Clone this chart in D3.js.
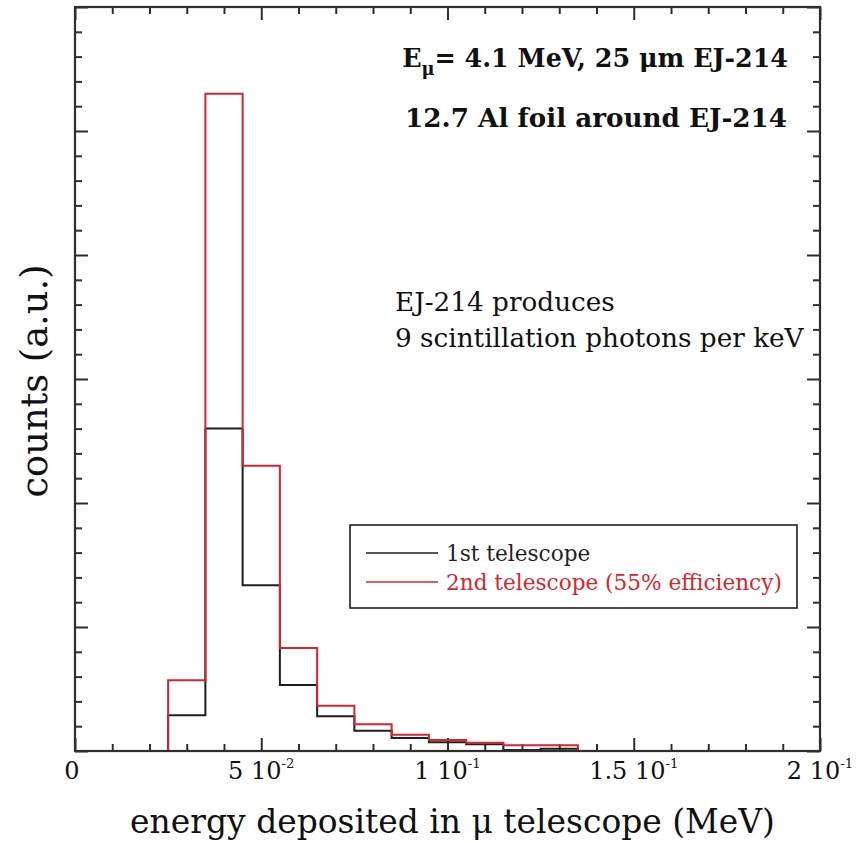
<!DOCTYPE html>
<html>
<head>
<meta charset="utf-8">
<script src="https://cdn.jsdelivr.net/npm/d3@7"></script>
<style>
  html, body { margin: 0; padding: 0; background: #fff; }
  svg { display: block; }
  text { font-family: "DejaVu Serif", "Liberation Serif", serif; fill: #111; }
</style>
</head>
<body>
<div id="chart"></div>
<script>
// ---- data ----
const binEdges = [0.025, 0.035, 0.045, 0.055, 0.065, 0.075, 0.085, 0.095, 0.105, 0.115, 0.125, 0.135];
const firstTelescope  = [0.288, 2.60, 1.336, 0.532, 0.280, 0.164, 0.105, 0.070, 0.054, 0.008, 0.019];
const secondTelescope = [0.570, 5.30, 2.30, 0.831, 0.365, 0.215, 0.132, 0.089, 0.066, 0.046, 0.046];
const seriesNames = ["1st telescope", "2nd telescope (55% efficiency)"];
const xTickValues = [0, 0.05, 0.1, 0.15, 0.2];
const xTickMantissa = ["0", "5", "1", "1.5", "2"];
const xTickExponent = ["", "-2", "-1", "-1", "-1"];
const xDomain = [0, 0.2];
const yDomain = [0, 6];

// ---- layout ----
const W = 856, H = 843;
const L = 75, R = 820, T = 7, B = 751;
const black = "#1e1e1e", red = "#d8252b", axisCol = "#2e2e2e";

const svg = d3.select("#chart").append("svg").attr("width", W).attr("height", H);
const x = d3.scaleLinear().domain(xDomain).range([L, R]);
const y = d3.scaleLinear().domain(yDomain).range([B, T]);

function fit(sel, target) {
  const fs = parseFloat(sel.attr("font-size"));
  const w = sel.node().getBBox().width;
  sel.attr("font-size", (fs * target / w).toFixed(2));
}

// ---- ticks (inward on all four sides) ----
const xMinor = d3.range(0, 21).map(i => i / 100).filter(v => Math.round(v * 100) % 5 !== 0);
const yMinor = d3.range(0, 31).map(i => i / 5).filter(v => Math.abs(v - Math.round(v)) > 1e-6);
const yMajor = d3.range(0, 7);
const majLen = 13, minLen = 7;

function axisGroup(axis, tx, ty) {
  const g = svg.append("g").attr("transform", `translate(${tx},${ty})`).call(axis);
  g.select(".domain").remove();
  g.selectAll(".tick line").attr("stroke", axisCol).attr("stroke-width", 2);
  g.selectAll(".tick text").remove();
  return g;
}
axisGroup(d3.axisBottom(x).tickValues(xMinor).tickSize(-minLen), 0, B);
axisGroup(d3.axisBottom(x).tickValues(xTickValues).tickSize(-majLen), 0, B);
axisGroup(d3.axisTop(x).tickValues(xMinor).tickSize(-minLen), 0, T);
axisGroup(d3.axisTop(x).tickValues(xTickValues).tickSize(-majLen), 0, T);
axisGroup(d3.axisLeft(y).tickValues(yMinor).tickSize(-minLen), L, 0);
axisGroup(d3.axisLeft(y).tickValues(yMajor).tickSize(-majLen), L, 0);
axisGroup(d3.axisRight(y).tickValues(yMinor).tickSize(-minLen), R, 0);
axisGroup(d3.axisRight(y).tickValues(yMajor).tickSize(-majLen), R, 0);

// ---- histograms ----
function stepPoints(vals) {
  const pts = [[binEdges[0], 0]];
  vals.forEach((v, i) => { pts.push([binEdges[i], v]); pts.push([binEdges[i + 1], v]); });
  pts.push([binEdges[binEdges.length - 1], 0]);
  return pts;
}
const line = d3.line().x(d => x(d[0])).y(d => y(d[1]));
svg.append("path").attr("d", line(stepPoints(firstTelescope)))
  .attr("fill", "none").attr("stroke", black).attr("stroke-width", 2);
svg.append("path").attr("d", line(stepPoints(secondTelescope)))
  .attr("fill", "none").attr("stroke", red).attr("stroke-width", 2);

// frame
svg.append("rect").attr("x", L).attr("y", T).attr("width", R - L).attr("height", B - T)
  .attr("fill", "none").attr("stroke", axisCol).attr("stroke-width", 2.2);

// ---- tick labels ----
xTickValues.forEach((v, i) => {
  const t = svg.append("text").attr("x", x(v) + (xTickExponent[i] ? 0 : -3)).attr("y", 779)
    .attr("text-anchor", "middle").attr("font-size", 24);
  if (xTickExponent[i]) {
    t.append("tspan").text(xTickMantissa[i] + " 10");
    t.append("tspan").attr("font-size", "0.55em").attr("dy", -11).text(xTickExponent[i]);
  } else {
    t.text(xTickMantissa[i]);
  }
});

// ---- axis titles ----
const xl = svg.append("text").attr("x", (L + R) / 2 + 5).attr("y", 833)
  .attr("text-anchor", "middle").attr("font-size", 30)
  .text("energy deposited in μ telescope (MeV)");
fit(xl, 645);
const yl = svg.append("text").attr("transform", "translate(47,381) rotate(-90)")
  .attr("text-anchor", "middle").attr("font-size", 30).text("counts (a.u.)");
fit(yl, 233);

// ---- annotations ----
const t1 = svg.append("text").attr("x", 788).attr("y", 67).attr("text-anchor", "end")
  .attr("font-size", 22).attr("font-weight", "bold");
t1.append("tspan").text("E");
t1.append("tspan").attr("font-size", "0.7em").attr("dy", 8).text("μ");
t1.append("tspan").attr("dy", -8).text("= 4.1 MeV, 25 μm EJ-214");
fit(t1, 386);
const t2 = svg.append("text").attr("x", 787).attr("y", 127).attr("text-anchor", "end")
  .attr("font-size", 22).attr("font-weight", "bold").text("12.7 Al foil around EJ-214");
fit(t2, 382);

const a1 = svg.append("text").attr("x", 395).attr("y", 311).attr("font-size", 22).text("EJ-214 produces");
const a2 = svg.append("text").attr("x", 395).attr("y", 347).attr("font-size", 22).text("9 scintillation photons per keV");
fit(a2, 410);
a1.attr("font-size", a2.attr("font-size"));

// ---- legend ----
svg.append("rect").attr("x", 350).attr("y", 525).attr("width", 447).attr("height", 83)
  .attr("fill", "#fff").attr("stroke", black).attr("stroke-width", 1.6);
const legColors = [black, red];
const legY = [553, 582];
seriesNames.forEach((n, i) => {
  svg.append("line").attr("x1", 366).attr("x2", 438).attr("y1", legY[i]).attr("y2", legY[i])
    .attr("stroke", legColors[i]).attr("stroke-width", 1.6);
});
const lt2 = svg.append("text").attr("x", 446).attr("y", 590).attr("font-size", 19)
  .style("fill", red).text(seriesNames[1]);
fit(lt2, 336);
svg.append("text").attr("x", 446).attr("y", 561).attr("font-size", lt2.attr("font-size"))
  .style("fill", black).text(seriesNames[0]);
</script>
</body>
</html>
